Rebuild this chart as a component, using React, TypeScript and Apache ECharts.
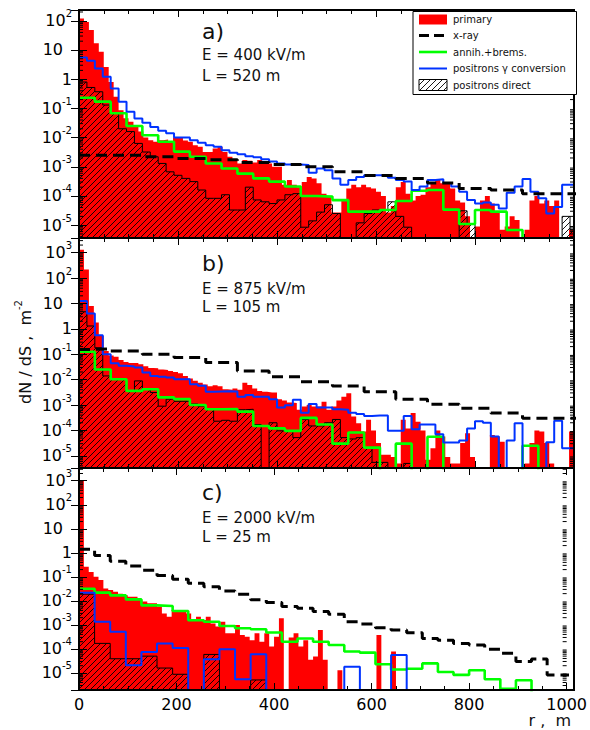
import React, { useEffect, useRef } from 'react';
import * as echarts from 'echarts';

const FONT = '"DejaVu Sans", "Liberation Sans", sans-serif';
const EMPTY = 1e-9; // stands for an empty bin on the log axis (below every panel's minimum)

// bin widths (m)
const PRIMARY_BIN = 10;
const XRAY_BIN = 32;
const ANNIH_BIN = 32;
const POS_BIN = [16, 16, 32];

// axis ranges
const X_MIN = 0;
const X_MAX = 1000;
const X_INTERVAL = 200;
const Y_MIN = [3.63e-6, 3.3e-6, 1.95e-6];
const Y_MAX = [234, 3800, 3390];
const MINOR_MULTIPLES = [2, 3, 4, 5, 6, 7, 8, 9];
const DECADES = [-7, -6, -5, -4, -3, -2, -1, 0, 1, 2, 3];

// panel texts
const PANEL_TAGS = ['a)', 'b)', 'c)'];
const PANEL_FIELD = ['E = 400 kV/m', 'E = 875 kV/m', 'E = 2000 kV/m'];
const PANEL_LENGTH = ['L = 520 m', 'L = 105 m', 'L = 25 m'];
const LEGEND_LABELS = ['primary', 'x-ray', 'annih.+brems.', 'positrons \u03b3 conversion', 'positrons direct'];

// ---------------- panel a ----------------
const A_PRIMARY = [
  120, 90, 48, 17, 8.7, 2.6, 0.8, 0.25, 0.087, 0.046,
  0.035, 0.025, 0.016, 0.01, 0.0081, 0.0072, 0.0081, 0.0085, 0.0072, 0.01,
  0.0105, 0.008, 0.0072, 0.0055, 0.0048, 0.0032, 0.0032, 0.0042, 0.0048, 0.0032,
  0.0022, 0.0017, 0.0013, 0.0017, 0.0016, 0.0014, 0.0017, 0.0015, 0.0013, 0.001,
  0.001, 0.00024, 0.00035, 0.00024, 0.0002, 0.0003, 0.00045, 0.0004, 0.00027, 0.00012,
  0.0001, 0.000027, 0.000027, 0.00007, 0.00018, 0.00024, 0.0002, 0.00024, 0.0002, 0.00018,
  0.00014, 0.0001, 0.000027, 0.000045, 0.0002, 0.0003, 0.00012, 0.00007, 0.0001, 0.00011,
  0.0002, 0.0003, 0.00035, 0.00027, 0.00027, 0.00018, 0.00007, 0.00006, 0.00002, 0,
  0.000009, 0.00007, 0.0001, 0.000055, 0.000027, 0.000007, 0.000009, 0.00002, 0.000015, 0,
  0.000007, 0.00007, 0.0001, 0.000055, 0.00007, 0.000045, 0.00007, 0, 0, 0.000007,
];
const A_XRAY = [
  2.5e-3, 2.5e-3, 2.5e-3, 2.5e-3, 2.2e-3, 2.2e-3, 1.9e-3, 1.9e-3, 1.75e-3, 1.75e-3,
  1.4e-3, 1.4e-3, 1.2e-3, 1.2e-3, 1.0e-3, 1.0e-3, 6.8e-4, 6.8e-4, 5e-4, 5e-4,
  4e-4, 4e-4, 2.8e-4, 2.8e-4, 1.8e-4, 1.8e-4, 1.6e-4, 1.6e-4, 1.2e-4, 1.2e-4,
  1.2e-4, 1.2e-4,
];
const A_ANNIH = [
  0.23, 0.17, 0.068, 0.025, 0.012, 0.0072, 0.0033, 0.0022, 0.0013, 8.7e-4,
  5.8e-4, 4e-4, 3.1e-4, 2.1e-4, 1e-4, 9.5e-5, 7.2e-5, 2.9e-5, 2.9e-5, 3.3e-5,
  6.7e-5, 1.5e-4, 1.6e-4, 3.4e-5, 1.1e-5, 3.3e-5, 2.9e-5, 6.8e-6, 0, 0,
  0, 0,
];
const A_POS_GAMMA = [
  5.5, 4.3, 2.3, 1.2, 0.48, 0.17, 0.076, 0.045, 0.032, 0.023,
  0.017, 0.014, 0.01, 0.01, 0.0081, 0.0066, 0.0055, 0.0048, 0.0037, 0.003,
  0.0027, 0.0023, 0.0021, 0.0018, 0.0015, 0.0013, 0.0012, 0.0012, 0.00115, 0.00062,
  0.00087, 0.00076, 0.0004, 0.00024, 0.00035, 0.00045, 0.00051, 0.00051, 0.00051, 0.00042,
  0.00035, 0.00031, 0.00016, 0.00021, 0.00035, 0.00037, 0.00028, 0.00021, 0.00014, 0.000073,
  0.000055, 0.00006, 0.00005, 0.000037, 0.00013, 0.00021, 0.00038, 0.00014, 0.000083, 0.000025,
  0.000042, 0.00024, 0.00024,
];
const A_POS_DIRECT = [
  0.8, 0.52, 0.37, 0.13, 0.067, 0.02, 0.016, 0.0063, 0.0032, 0.0022,
  0.0013, 0.00067, 0.00051, 0.0004, 0.00031, 0.00016, 0.000083, 0.000083, 0.00011, 0.000033,
  0.000033, 0.0002, 0.000073, 0.000063, 0.000055, 0.000073, 0.00011, 0.00012, 0.0000085, 0.000014,
  0.000028, 0.00005, 0.000025, 0, 0, 0.000012, 0.000025, 0.000033, 0.000033, 0.000063,
  0.00002, 0.0000085, 0, 0, 0, 0, 0, 0, 0.000031, 0.000011,
  0, 0, 0, 0, 0, 0, 0, 0, 0, 0,
  0, 0.00002, 0.0000068,
];

// ---------------- panel b ----------------
const B_PRIMARY = [
  1300, 220, 7.9, 1.8, 0.52, 0.135, 0.09, 0.08, 0.06, 0.05,
  0.045, 0.045, 0.04, 0.034, 0.029, 0.028, 0.025, 0.024, 0.022, 0.02,
  0.018, 0.014, 0.011, 0.009, 0.0075, 0.0065, 0.0055, 0.006, 0.0055, 0.0042,
  0.004, 0.0045, 0.004, 0.0075, 0.0062, 0.0045, 0.0036, 0.0033, 0.0031, 0.0031,
  0.0017, 0.0015, 0.00127, 0.0012, 0.00065, 0.00087, 0.001, 0.00087, 0.00087, 0.00135,
  0.00065, 0.00087, 0.0015, 0.0021, 0.0029, 0.00035, 0.00019, 0.00009, 0.00026, 0.0001,
  0.000032, 0.000011, 0.000011, 0.000009, 0.000005, 0.00026, 0.00012, 0.00048, 0.00022, 0.0001,
  0.000007, 0.00002, 0.0001, 0.000057, 0.000009, 0.000005, 0.000005, 0.000032, 0.000078, 0.000009,
  0, 0, 0, 0.000066, 0.000057, 0.000036, 0, 0, 0, 0,
  0.000005, 0.000032, 0.0001, 0.00009, 0.000032, 0.000005, 0, 0, 0, 0.00009,
];
const B_XRAY = [
  0.155, 0.165, 0.135, 0.135, 0.1, 0.1, 0.074, 0.074, 0.047, 0.047,
  0.022, 0.022, 0.013, 0.013, 0.0083, 0.0083, 0.0056, 0.0056, 0.0033, 0.0033,
  0.0017, 0.0017, 0.00107, 0.00107, 7.4e-4, 7.4e-4, 4.8e-4, 4.8e-4, 3e-4, 3e-4,
  3e-4, 3e-4,
];
const B_ANNIH = [
  0.125, 0.025, 0.0103, 0.0036, 0.0042, 0.002, 0.0017, 0.001, 6.8e-4, 7e-4,
  5.5e-4, 1.5e-4, 1.2e-4, 9.6e-5, 3.1e-4, 1.7e-4, 3e-5, 8.3e-5, 2.1e-5, 0,
  3e-5, 0, 5.6e-5, 0, 0, 0, 0, 0, 2.5e-5, 0,
  0, 0,
];
const B_POS_GAMMA = [
  12.6, 4, 0.56, 0.1, 0.044, 0.035, 0.033, 0.03, 0.019, 0.014,
  0.013, 0.012, 0.0103, 0.0103, 0.0066, 0.0057, 0.0033, 0.0034, 0.0035, 0.0034,
  0.0021, 0.0025, 0.0021, 0.0021, 0.0017, 0.0008, 0.00098, 0.0016, 0.0005, 0.0011,
  0.0008, 0.0008, 0.00068, 0.00065, 0.0005, 0.00044, 0.00037, 0.00039, 0.00039, 0.000096,
  0.000096, 0.00037, 0.00011, 0.00017, 0.00017, 0.00007, 0.000033, 0.000033, 0.00004, 0.00012,
  0.00023, 0.0002, 0.000058, 0, 0.00004, 0.00019, 0, 0, 0, 0.000034,
  0.00024, 0.00002, 0.00002,
];
const B_POS_DIRECT = [
  4.7, 1.3, 0.18, 0.014, 0.011, 0.0105, 0.0035, 0.0089, 0.0042, 0.0031,
  0.0009, 0.0017, 0.0014, 0.0014, 0.0011, 0.0009, 0.00068, 0.00023, 0.00025, 0.00023,
  0.00065, 0.00068, 0.00017, 0, 0.0002, 0.000096, 0.000096, 0.000052, 0.00027, 0.00015,
  0.00015, 0.0002, 0.00027, 0.000052, 0.000046, 0.000052, 0.000021, 0.0000055, 0.0000055, 0,
  0, 0.000005, 0, 0, 0, 0, 0, 0, 0, 0,
  0, 0, 0, 0, 0, 0, 0, 0, 0, 0,
  0, 0, 0,
];

// ---------------- panel c ----------------
const C_PRIMARY = [
  1000, 0.26, 0.16, 0.1, 0.074, 0.033, 0.028, 0.024, 0.02, 0.017,
  0.015, 0.015, 0.011, 0.0093, 0.0079, 0.0079, 0.0058, 0.003, 0.0022, 0.0042,
  0.0035, 0.0035, 0.003, 0.0016, 0.0022, 0.0016, 0.0022, 0.00115, 0.00085, 0.00135,
  0.00045, 0.00045, 0.001, 0.00038, 0.00032, 0.00023, 0.00045, 0.0002, 0.00045, 0.000125,
  0.00032, 0.0019, 0, 0.0003, 0.00045, 0.000125, 0.00023, 0.000035, 0.000048, 0.00061,
  0.000035, 0, 0, 0.000013, 0, 0, 0, 0, 0, 0,
  0, 0.00038, 0, 0, 0.000078, 0, 0, 0, 0, 0,
  0, 0, 0, 0, 0, 0, 0, 0, 0, 0,
  0, 0, 0, 0, 0, 0, 0, 0, 0, 0,
  0, 0, 0, 0, 0, 0, 0, 0, 0, 0,
];
const C_XRAY = [
  1.4, 0.78, 0.45, 0.28, 0.19, 0.115, 0.079, 0.054, 0.039, 0.026,
  0.019, 0.011, 0.0085, 5.8e-3, 4.9e-3, 3.6e-3, 2.8e-3, 1.36e-3, 1.1e-3, 7.6e-4,
  6.1e-4, 4.7e-4, 2.7e-4, 2.3e-4, 1.7e-4, 1.45e-4, 9.6e-5, 6.6e-5, 3e-5, 3.8e-5,
  8.3e-6, 8.3e-6,
];
const C_ANNIH = [
  0.032, 0.022, 0.017, 0.0115, 0.0065, 0.0061, 0.0038, 0.00155, 0.00135, 9e-4,
  7.3e-4, 6.6e-4, 4.8e-4, 2e-4, 2.7e-4, 2e-4, 1.45e-4, 7.8e-5, 7e-5, 2.3e-5,
  1.4e-5, 1.5e-5, 2.5e-5, 1.1e-5, 8.3e-6, 1.3e-5, 5.5e-6, 2.2e-6, 5e-6, 0,
  0, 0,
];
const C_POS_GAMMA = [
  0.022, 0.00135, 0.00052, 0.000021, 0.000075, 0.00017, 0.00011, 0, 0.000037, 0.000096,
  0.0000054, 0.00006, 0, 0, 0, 0, 0, 0.000018, 0, 0,
  0.000056, 0, 0, 0, 0, 0, 0, 0, 0, 0,
  0, 0,
];
const C_POS_DIRECT = [
  0.019, 0.00017, 0.000039, 0.000039, 0.00005, 0.000016, 0.0000088, 0, 0.000059, 0,
  0, 0.0000051, 0, 0, 0, 0, 0, 0, 0, 0,
  0, 0, 0, 0, 0, 0, 0, 0, 0, 0,
  0, 0,
];

const PANEL_DATA = [
  { primary: A_PRIMARY, xray: A_XRAY, annih: A_ANNIH, gamma: A_POS_GAMMA, direct: A_POS_DIRECT },
  { primary: B_PRIMARY, xray: B_XRAY, annih: B_ANNIH, gamma: B_POS_GAMMA, direct: B_POS_DIRECT },
  { primary: C_PRIMARY, xray: C_XRAY, annih: C_ANNIH, gamma: C_POS_GAMMA, direct: C_POS_DIRECT },
];

// layout
const GRID_LEFT = 79;
const GRID_WIDTH = 495;
const GRID_TOP = [10, 238, 468];
const GRID_HEIGHT = [228, 230, 222];
const TAG_Y = [31, 263, 492.5];
const FIELD_Y = [55, 289, 518];
const LENGTH_Y = [75.5, 306.5, 536.5];

const RED = '#ff0000';
const GREEN = '#00ff00';
const BLUE = '#0033ff';

function hist(bin: number, values: number[]) {
  const pts: number[][] = values.map((v, i) => [i * bin, v > 0 ? v : EMPTY]);
  const last = values[values.length - 1];
  pts.push([values.length * bin, last > 0 ? last : EMPTY]);
  return pts;
}

function makeHatch() {
  const c = document.createElement('canvas');
  c.width = 6;
  c.height = 6;
  const ctx = c.getContext('2d')!;
  ctx.strokeStyle = '#000';
  ctx.lineWidth = 0.9;
  ctx.beginPath();
  ctx.moveTo(-1, 7);
  ctx.lineTo(7, -1);
  ctx.moveTo(-1, 1);
  ctx.lineTo(1, -1);
  ctx.moveTo(5, 7);
  ctx.lineTo(7, 5);
  ctx.stroke();
  return c;
}

const yLabelRich = {
  b: { fontSize: 16, fontFamily: FONT, color: '#000', lineHeight: 24 },
  s: { fontSize: 10, fontFamily: FONT, color: '#000', verticalAlign: 'top', lineHeight: 12 },
  sp: { fontSize: 10, width: 9 },
};

function yLabel(v: number) {
  const l = Math.log10(v);
  const e = Math.round(l);
  if (Math.abs(l - e) > 0.01) return '';
  if (e === 0) return '{b|1}';
  if (e === 1) return '{b|10}{sp| }';
  return `{b|10}{s|${e}}`;
}

export default function App() {
  const ref = useRef<HTMLDivElement>(null);

  useEffect(() => {
    if (!ref.current) return;
    const chart = echarts.init(ref.current, null, { renderer: 'svg' });
    const hatch = { image: makeHatch(), repeat: 'repeat' };

    const grids: any[] = [];
    const xAxes: any[] = [];
    const yAxes: any[] = [];
    const series: any[] = [];
    const graphics: any[] = [];

    for (let g = 0; g < 3; g++) {
      grids.push({ left: GRID_LEFT, top: GRID_TOP[g], width: GRID_WIDTH, height: GRID_HEIGHT[g], show: false });
      const xCommon = {
        type: 'value', gridIndex: g, min: X_MIN, max: X_MAX, interval: X_INTERVAL, z: 10,
        axisLine: { show: false }, splitLine: { show: false },
        axisTick: { show: true, inside: true, length: 7, lineStyle: { color: '#000', width: 1 } },
        minorTick: { show: true, splitNumber: 4, length: 4, lineStyle: { color: '#000', width: 1 } },
      };
      xAxes.push({
        ...xCommon, position: 'bottom',
        axisLabel: {
          show: g === 2, margin: 7, color: '#000', fontSize: 16, fontFamily: FONT, lineHeight: 14,
          formatter: (v: number) => String(v),
        },
      });
      xAxes.push({ ...xCommon, position: 'top', axisLabel: { show: false } });

      const yCommon = {
        type: 'log', logBase: 10, gridIndex: g, min: Y_MIN[g], max: Y_MAX[g], splitNumber: 10, z: 10,
        axisLine: { show: false }, splitLine: { show: false },
        axisTick: { show: true, inside: true, length: 8, lineStyle: { color: '#000', width: 1 } },
      };
      yAxes.push({
        ...yCommon, position: 'left',
        axisLabel: {
          show: true, interval: 0, margin: 7, showMinLabel: false, showMaxLabel: false,
          formatter: yLabel, rich: yLabelRich, align: 'right',
        },
      });
      yAxes.push({ ...yCommon, position: 'right', axisLabel: { show: false } });

      const d = PANEL_DATA[g];
      const xi = 2 * g;
      const yi = 2 * g;
      series.push({
        type: 'line', name: 'primary', xAxisIndex: xi, yAxisIndex: yi, step: 'end',
        symbol: 'none', showSymbol: false, silent: true, z: 2,
        data: hist(PRIMARY_BIN, d.primary),
        lineStyle: { width: 0, opacity: 0 },
        areaStyle: { color: RED, opacity: 1, origin: 'start' },
      });
      series.push({
        type: 'line', name: 'positrons direct', xAxisIndex: xi, yAxisIndex: yi, step: 'end',
        symbol: 'none', showSymbol: false, silent: true, z: 3,
        data: hist(POS_BIN[g], d.direct),
        lineStyle: { width: 1, color: '#000' },
        areaStyle: { color: hatch, opacity: 1, origin: 'start' },
      });
      series.push({
        type: 'line', name: 'annih.+brems.', xAxisIndex: xi, yAxisIndex: yi, step: 'end',
        symbol: 'none', showSymbol: false, silent: true, z: 4,
        data: hist(ANNIH_BIN, d.annih),
        lineStyle: { width: 2.6, color: GREEN },
      });
      series.push({
        type: 'line', name: 'positrons gamma conversion', xAxisIndex: xi, yAxisIndex: yi, step: 'end',
        symbol: 'none', showSymbol: false, silent: true, z: 5,
        data: hist(POS_BIN[g], d.gamma),
        lineStyle: { width: 2, color: BLUE },
      });
      series.push({
        type: 'line', name: 'x-ray', xAxisIndex: xi, yAxisIndex: yi, step: 'end',
        symbol: 'none', showSymbol: false, silent: true, z: 6,
        data: hist(XRAY_BIN, d.xray),
        lineStyle: { width: 3, color: '#000', type: [11, 6] },
      });

      // log minor ticks on both vertical edges
      const minor: number[][] = [];
      DECADES.forEach((dec) => MINOR_MULTIPLES.forEach((m) => {
        const v = m * Math.pow(10, dec);
        if (v > Y_MIN[g] && v < Y_MAX[g]) minor.push([X_MIN, v]);
      }));
      series.push({
        type: 'custom', xAxisIndex: xi, yAxisIndex: yi, silent: true, z: 10,
        encode: { x: 0, y: 1 },
        data: minor,
        renderItem: (_p: any, api: any) => {
          const v = api.value(1);
          const l = api.coord([X_MIN, v]);
          const r = api.coord([X_MAX, v]);
          return {
            type: 'group',
            children: [
              { type: 'line', shape: { x1: l[0], y1: l[1], x2: l[0] + 4, y2: l[1] }, style: { stroke: '#000', lineWidth: 1 } },
              { type: 'line', shape: { x1: r[0] - 4, y1: r[1], x2: r[0], y2: r[1] }, style: { stroke: '#000', lineWidth: 1 } },
            ],
          };
        },
      });

      // frame
      graphics.push({
        type: 'rect', z: 50, silent: true,
        shape: { x: GRID_LEFT, y: GRID_TOP[g], width: GRID_WIDTH, height: GRID_HEIGHT[g] },
        style: { fill: 'none', stroke: '#000', lineWidth: 2 },
      });
      // panel texts
      graphics.push({
        type: 'text', z: 60, x: 202, y: TAG_Y[g],
        style: { text: PANEL_TAGS[g], font: `22px ${FONT}`, fill: '#111', verticalAlign: 'middle', textVerticalAlign: 'middle' },
      });
      graphics.push({
        type: 'text', z: 60, x: 202, y: FIELD_Y[g],
        style: { text: PANEL_FIELD[g], font: `15px ${FONT}`, fill: '#111', verticalAlign: 'middle', textVerticalAlign: 'middle' },
      });
      graphics.push({
        type: 'text', z: 60, x: 202, y: LENGTH_Y[g],
        style: { text: PANEL_LENGTH[g], font: `15px ${FONT}`, fill: '#111', verticalAlign: 'middle', textVerticalAlign: 'middle' },
      });
    }

    // legend box
    const LX = 413, LY = 11.5, LW = 163.5, LH = 83;
    const rowY = [19.5, 35.5, 52, 68.5, 85];
    const sx1 = 419, sx2 = 447, tx = 453;
    graphics.push({ type: 'rect', z: 70, silent: true, shape: { x: LX, y: LY, width: LW, height: LH }, style: { fill: '#fff', stroke: '#000', lineWidth: 1 } });
    graphics.push({ type: 'rect', z: 71, silent: true, shape: { x: sx1, y: rowY[0] - 5, width: sx2 - sx1, height: 10 }, style: { fill: RED } });
    graphics.push({ type: 'line', z: 71, silent: true, shape: { x1: sx1, y1: rowY[1], x2: sx2, y2: rowY[1] }, style: { stroke: '#000', lineWidth: 3, lineDash: [10, 5] } });
    graphics.push({ type: 'line', z: 71, silent: true, shape: { x1: sx1, y1: rowY[2], x2: sx2, y2: rowY[2] }, style: { stroke: GREEN, lineWidth: 2.6 } });
    graphics.push({ type: 'line', z: 71, silent: true, shape: { x1: sx1, y1: rowY[3], x2: sx2, y2: rowY[3] }, style: { stroke: BLUE, lineWidth: 2 } });
    graphics.push({ type: 'rect', z: 71, silent: true, shape: { x: sx1, y: rowY[4] - 5.5, width: sx2 - sx1, height: 11 }, style: { fill: hatch, stroke: '#000', lineWidth: 1 } });
    LEGEND_LABELS.forEach((t, i) => {
      graphics.push({
        type: 'text', z: 72, x: tx, y: rowY[i],
        style: { text: t, font: `10px ${FONT}`, fill: '#111', verticalAlign: 'middle', textVerticalAlign: 'middle' },
      });
    });

    // axis titles
    graphics.push({
      type: 'text', z: 60, x: 25, y: 352, rotation: Math.PI / 2,
      style: {
        text: '{a|dN / dS ,  m}{s|-2}',
        align: 'center', verticalAlign: 'middle', textAlign: 'center', textVerticalAlign: 'middle',
        rich: {
          a: { fontSize: 16, fontFamily: FONT, fill: '#111', color: '#111', lineHeight: 24 },
          s: { fontSize: 10, fontFamily: FONT, fill: '#111', color: '#111', verticalAlign: 'top', lineHeight: 12 },
        },
      },
    });
    graphics.push({
      type: 'text', z: 60, x: 571, y: 720.5,
      style: {
        text: 'r ,  m', font: `16px ${FONT}`, fill: '#111', lineHeight: 17,
        align: 'right', textAlign: 'right', verticalAlign: 'middle', textVerticalAlign: 'middle',
      },
    });

    chart.setOption({
      animation: false,
      backgroundColor: '#fff',
      textStyle: { fontFamily: FONT },
      grid: grids,
      xAxis: xAxes,
      yAxis: yAxes,
      series,
      graphic: { elements: graphics },
    });

    return () => chart.dispose();
  }, []);

  return (
    <div
      ref={ref}
      style={{ position: 'fixed', left: 0, top: 0, width: 590, height: 730, background: '#fff' }}
    />
  );
}
